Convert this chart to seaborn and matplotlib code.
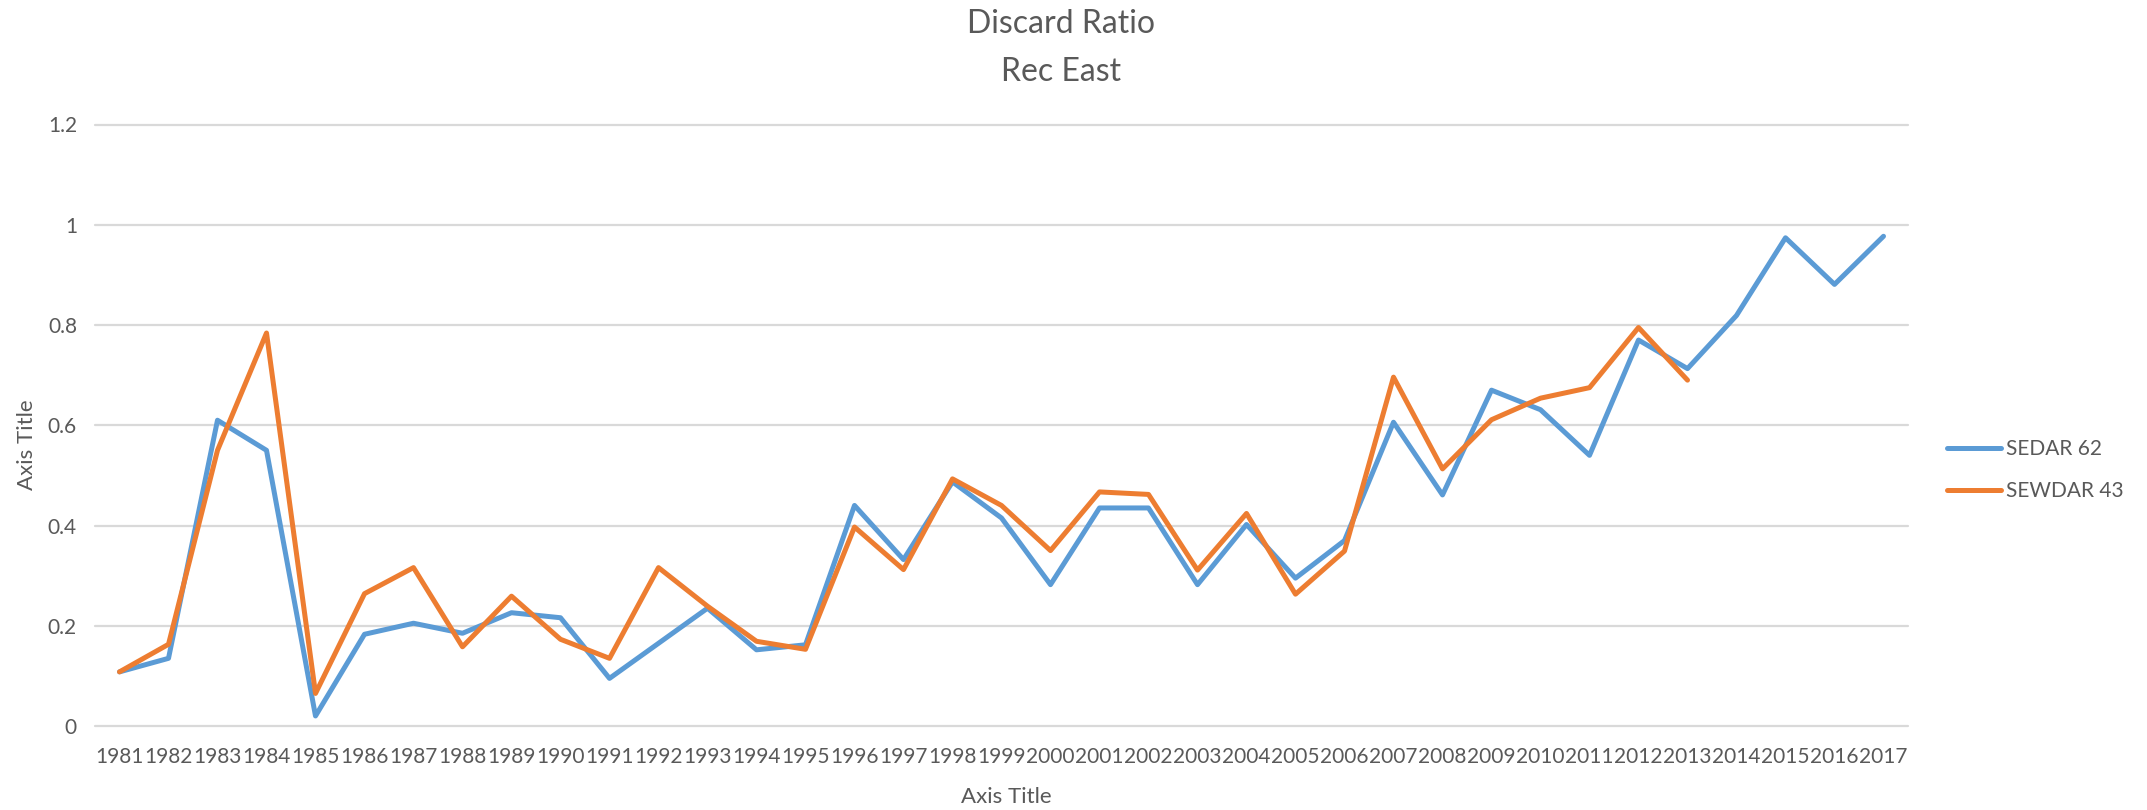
import matplotlib
matplotlib.use("Agg")
import matplotlib.pyplot as plt
import numpy as np
import pandas as pd
import seaborn as sns

# -----------------------------
# Data
# -----------------------------
years = list(range(1981, 2018))

sedar62 = [0.108, 0.135, 0.610, 0.550, 0.020, 0.183, 0.205, 0.185, 0.226, 0.216,
           0.095, 0.165, 0.235, 0.152, 0.162, 0.440, 0.332, 0.487, 0.415, 0.282,
           0.435, 0.435, 0.282, 0.402, 0.295, 0.370, 0.606, 0.461, 0.670, 0.631,
           0.540, 0.770, 0.713, 0.819, 0.974, 0.881, 0.977]

sewdar43 = [0.108, 0.163, 0.550, 0.784, 0.065, 0.264, 0.316, 0.158, 0.259, 0.173,
            0.135, 0.316, 0.239, 0.169, 0.153, 0.397, 0.312, 0.493, 0.440, 0.350,
            0.467, 0.462, 0.311, 0.424, 0.263, 0.349, 0.696, 0.513, 0.611, 0.654,
            0.675, 0.795, 0.690]  # ends at 2013

series_names = ["SEDAR 62", "SEWDAR 43"]
colors = ["#5B9BD5", "#ED7D31"]
y_ticks = [0, 0.2, 0.4, 0.6, 0.8, 1.0, 1.2]
y_tick_labels = ["0", "0.2", "0.4", "0.6", "0.8", "1", "1.2"]

df = pd.concat([
    pd.DataFrame({"year": years, "ratio": sedar62, "series": series_names[0]}),
    pd.DataFrame({"year": years[:len(sewdar43)], "ratio": sewdar43, "series": series_names[1]}),
], ignore_index=True)

# -----------------------------
# Style
# -----------------------------
sns.set_style("white")
plt.rcParams["font.family"] = ["Lato", "DejaVu Sans"]
text_col = "#595959"
grid_col = "#D9D9D9"

W, H = 2147, 810
fig = plt.figure(figsize=(W / 100, H / 100), dpi=100)
ax = fig.add_axes([95 / W, 1 - 726 / H, (1908 - 95) / W, (726 - 124.5) / H])

sns.lineplot(
    data=df, x="year", y="ratio", hue="series",
    palette=dict(zip(series_names, colors)),
    linewidth=3.6, ax=ax, legend=False,
    solid_joinstyle="round", solid_capstyle="round",
)

ax.set_xlim(years[0] - 0.5, years[-1] + 0.5)
ax.set_ylim(0, 1.2)
ax.set_xticks(years)
ax.set_xticklabels([str(y) for y in years])
ax.set_yticks(y_ticks)
ax.set_yticklabels(y_tick_labels)
ax.tick_params(axis="x", length=0, pad=15, labelsize=15, colors=text_col)
ax.tick_params(axis="y", length=0, pad=13, labelsize=15, colors=text_col)

for sp in ax.spines.values():
    sp.set_visible(False)
ax.grid(False)
for yv in y_ticks:
    ax.axhline(yv, color=grid_col, linewidth=1.6, zorder=0, clip_on=False)

ax.set_xlabel("")
ax.set_ylabel("")

# Titles and axis titles
fig.text(1061 / W, 1 - 24 / H, "Discard Ratio", ha="center", va="center",
         fontsize=23, color=text_col)
fig.text(1061 / W, 1 - 72 / H, "Rec East", ha="center", va="center",
         fontsize=23, color=text_col)
fig.text(1006 / W, 1 - 797 / H, "Axis Title", ha="center", va="center",
         fontsize=16, color=text_col)
fig.text(27 / W, 1 - 445 / H, "Axis Title", ha="center", va="center",
         fontsize=16, color=text_col, rotation=90)

# Legend
handles = [plt.Line2D([], [], color=c, linewidth=3.6, solid_capstyle="round")
           for c in colors]
leg = fig.legend(handles, series_names, loc="center left",
                 bbox_to_anchor=(1947 / W, 1 - 470 / H),
                 frameon=False, fontsize=15, handlelength=2.6,
                 handletextpad=0.25, labelspacing=1.05,
                 borderpad=0, borderaxespad=0)
for t in leg.get_texts():
    t.set_color(text_col)

fig.savefig("out.png", dpi=100)
